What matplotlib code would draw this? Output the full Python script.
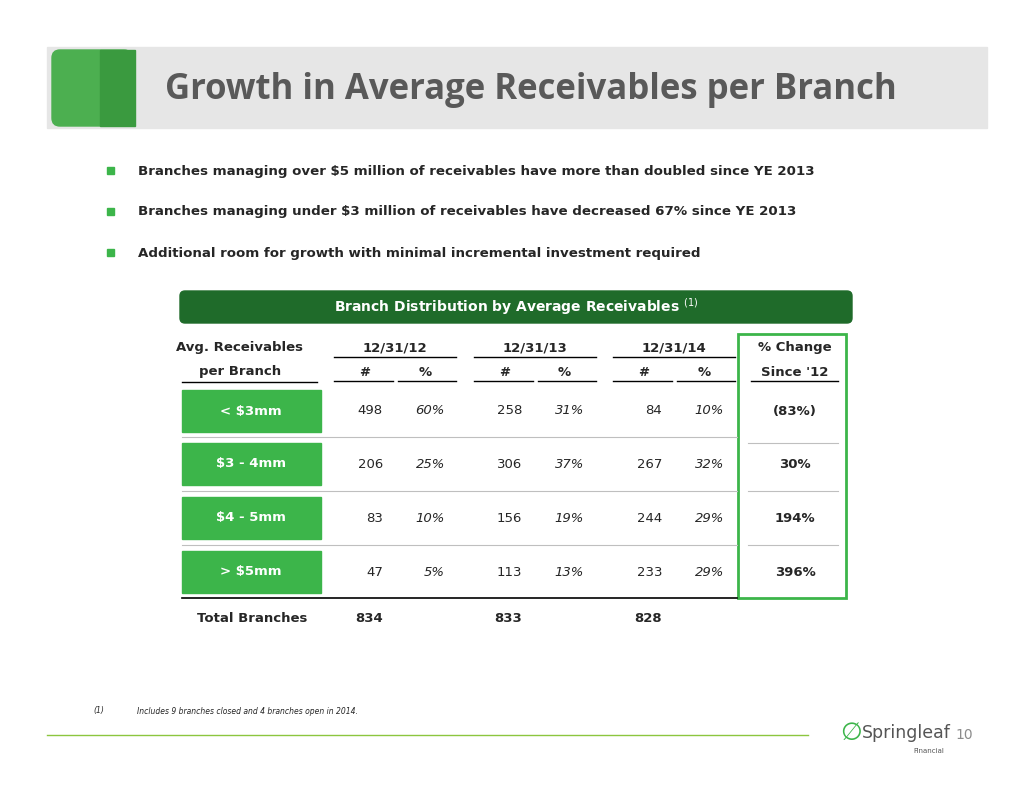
import matplotlib.pyplot as plt
from matplotlib.patches import Rectangle, FancyBboxPatch

# data
bullets = [
    "Branches managing over $5 million of receivables have more than doubled since YE 2013",
    "Branches managing under $3 million of receivables have decreased 67% since YE 2013",
    "Additional room for growth with minimal incremental investment required",
]
buckets = ["< $3mm", "$3 - 4mm", "$4 - 5mm", "> $5mm"]
dates = ["12/31/12", "12/31/13", "12/31/14"]
count_12 = [498, 206, 83, 47]
pct_12 = ["60%", "25%", "10%", "5%"]
count_13 = [258, 306, 156, 113]
pct_13 = ["31%", "37%", "19%", "13%"]
count_14 = [84, 267, 244, 233]
pct_14 = ["10%", "32%", "29%", "29%"]
change = ["(83%)", "30%", "194%", "396%"]
totals = [834, 833, 828]

GREEN = "#3cb54a"
DARK = "#1f6b2a"
TXT = "#262626"
FS = 9.5

fig = plt.figure(figsize=(10.34, 7.99), dpi=100)
ax = fig.add_axes([0, 0, 1, 1])
ax.set_xlim(0, 1034)
ax.set_ylim(799, 0)
ax.axis("off")

# title band
ax.add_patch(Rectangle((47, 47), 940, 81, color="#e6e6e6", zorder=0))
ax.add_patch(FancyBboxPatch((52, 50), 80, 76, boxstyle="round,pad=0,rounding_size=8",
                            color="#4caf50", zorder=1))
ax.add_patch(Rectangle((100, 50), 35, 76, color="#3a9a3f", zorder=1))
ax.text(165, 90, "Growth in Average Receivables per Branch", fontsize=25, fontweight="bold",
        color="#595959", va="center", family="Open Sans")

for i, b in enumerate(bullets):
    y = 171 + i * 41
    ax.add_patch(Rectangle((107, y - 4), 7, 7, color=GREEN))
    ax.text(138, y, b, fontsize=9.6, fontweight="bold", color=TXT, va="center")

ax.add_patch(FancyBboxPatch((180, 291), 672, 32, boxstyle="round,pad=0,rounding_size=5", color=DARK))
ax.text(516, 307, "Branch Distribution by Average Receivables $^{(1)}$", fontsize=10,
        fontweight="bold", color="white", ha="center", va="center")

# headers
ax.text(240, 348, "Avg. Receivables", fontsize=FS, fontweight="bold", color=TXT, ha="center", va="center")
ax.text(240, 372, "per Branch", fontsize=FS, fontweight="bold", color=TXT, ha="center", va="center")
ax.plot([182, 317], [382, 382], color="black", lw=1)
col_n = [383, 522, 662]
col_p = [445, 584, 724]
for k, d in enumerate(dates):
    x0 = 334 + k * 139.5
    ax.text(x0 + 61, 348, d, fontsize=FS, fontweight="bold", color=TXT, ha="center", va="center")
    ax.plot([x0, x0 + 122], [357, 357], color="black", lw=1)
    ax.text(x0 + 31, 372, "#", fontsize=FS, fontweight="bold", color=TXT, ha="center", va="center")
    ax.text(x0 + 91, 372, "%", fontsize=FS, fontweight="bold", color=TXT, ha="center", va="center")
    ax.plot([x0, x0 + 59], [381, 381], color="black", lw=1)
    ax.plot([x0 + 64, x0 + 122], [381, 381], color="black", lw=1)
ax.text(795, 348, "% Change", fontsize=FS, fontweight="bold", color=TXT, ha="center", va="center")
ax.text(795, 372, "Since '12", fontsize=FS, fontweight="bold", color=TXT, ha="center", va="center")
ax.plot([751, 838], [381, 381], color="black", lw=1)
ax.add_patch(Rectangle((738, 334), 108, 264, fill=False, edgecolor=GREEN, lw=2))

rows_y = [411, 464, 518, 572]
counts = [count_12, count_13, count_14]
pcts = [pct_12, pct_13, pct_14]
for i, y in enumerate(rows_y):
    ax.add_patch(Rectangle((182, y - 21), 139, 42, color=GREEN))
    ax.text(251, y, buckets[i], fontsize=FS, fontweight="bold", color="white", ha="center", va="center")
    for k in range(3):
        ax.text(col_n[k], y, str(counts[k][i]), fontsize=FS, color=TXT, ha="right", va="center")
        ax.text(col_p[k], y, pcts[k][i], fontsize=FS, style="italic", color=TXT, ha="right", va="center")
    ax.text(795, y, change[i], fontsize=FS, fontweight="bold", color=TXT, ha="center", va="center")
    if i < 3:
        ys = [437, 491, 545][i]
        ax.plot([182, 737], [ys, ys], color="#bfbfbf", lw=0.8)
        ax.plot([748, 838], [[443, 491, 545][i]] * 2, color="#bfbfbf", lw=0.8)
ax.plot([182, 737], [598, 598], color="black", lw=1.2)

ax.text(252, 619, "Total Branches", fontsize=FS, fontweight="bold", color=TXT, ha="center", va="center")
for k in range(3):
    ax.text(col_n[k], 619, str(totals[k]), fontsize=FS, fontweight="bold", color=TXT, ha="right", va="center")

# footer
ax.text(93, 711, "(1)", fontsize=5.5, style="italic", color=TXT, va="center")
ax.text(137, 711, "Includes 9 branches closed and 4 branches open in 2014.", fontsize=5.5,
        style="italic", color=TXT, va="center")
ax.plot([47, 808], [735, 735], color="#8cc63f", lw=1)
ax.text(840, 733, "\u2205", fontsize=18, color=GREEN, va="center")
ax.text(862, 733, "Springleaf", fontsize=12.5, color="#555555", va="center")
ax.text(944, 751, "Financial", fontsize=5, color="#555555", ha="right", va="center")
ax.text(955, 735, "10", fontsize=10, color="#8c8c8c", va="center")

fig.savefig("out.png", dpi=100)
